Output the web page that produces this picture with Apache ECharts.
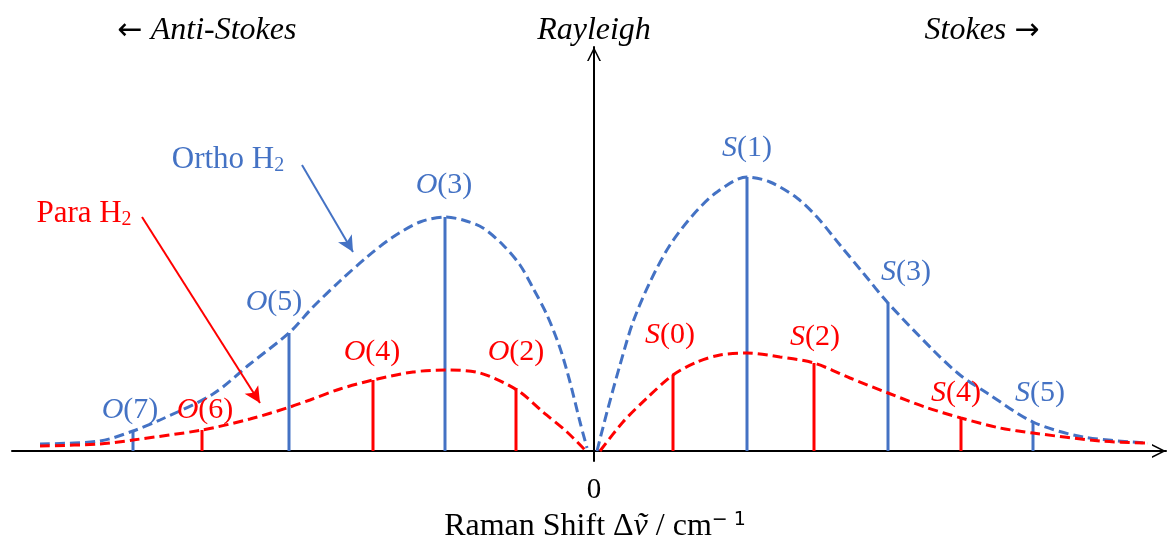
<!DOCTYPE html>
<html>
<head>
<meta charset="utf-8">
<script src="https://cdn.jsdelivr.net/npm/echarts@6/dist/echarts.min.js"></script>
<style>html,body{margin:0;padding:0;background:#fff}#c{width:1167px;height:542px}</style>
</head>
<body>
<div id="c"></div>
<script>
// ---- data (x: Raman shift, arbitrary units; y: intensity, arbitrary units) ----
const orthoLines = ['O(7)', 'O(5)', 'O(3)', 'S(1)', 'S(3)', 'S(5)'];
const orthoShift = [-461, -305, -149, 153, 294, 439];
const orthoIntensity = [19, 118, 234, 274, 148, 29];

const paraLines = ['O(6)', 'O(4)', 'O(2)', 'S(0)', 'S(2)', 'S(4)'];
const paraShift = [-392, -221, -78, 79, 220, 367];
const paraIntensity = [21, 71, 63, 76, 88, 33];

const orthoAntiStokesCurve = [[-554,7],[-494,10],[-461,20],[-434,31],[-381,57],[-344,87],[-304,119],[-281,144],[-254,170],[-227,194],[-201,214],[-174,229],[-149,234],[-131,231],[-111,223],[-91,206],[-74,186],[-61,163],[-47,136],[-34,103],[-24,69],[-14,29],[-7,3]];
const orthoStokesCurve = [[3,0],[13,39],[26,86],[39,129],[56,169],[76,206],[99,236],[123,259],[153,274],[176,269],[203,253],[223,234],[246,206],[270,177],[294,148],[339,101],[366,76],[393,58],[439,29],[489,14],[554,8]];
const paraAntiStokesCurve = [[-554,5],[-494,7],[-461,11],[-392,21],[-344,32],[-304,44],[-284,51],[-254,62],[-221,71],[-181,79],[-149,81],[-114,78],[-77,61],[-51,39],[-27,19],[-9,1]];
const paraStokesCurve = [[6,0],[29,29],[53,53],[79,76],[103,89],[126,96],[153,98],[186,94],[220,88],[256,73],[294,58],[331,44],[367,33],[406,23],[439,18],[506,10],[554,8]];

const xTickLabels = [0];
const headerTexts = ['{a|←} Anti-Stokes', 'Rayleigh', 'Stokes {a|→}'];

// annotation arrows (data coords: start, end)
const orthoArrow = [[-292, 286], [-241, 199]];
const paraArrow = [[-452, 234], [-334, 48]];

// ---- styles ----
const BLUE = '#4472C4', RED = '#FF0000';
const SERIF = '"Liberation Serif", "Times New Roman", serif';
const orthoLabelOffsets = [[-3,-22],[-15,-31],[-1,-32],[0,-29],[18,-31],[7,-29]];
const paraLabelOffsets = [[3,-20],[-1,-28],[0,-36],[-3,-40],[1,-26],[-5,-25]];

function labelRich(name) {
  const m = name.match(/^([A-Z])(.*)$/);
  return '{i|' + m[1] + '}{n|' + m[2] + '}';
}
function stickSeries(xs, ys, color) {
  return {
    type: 'custom', silent: true, z: 2,
    data: xs.map((x, i) => [x, ys[i]]),
    renderItem: function (params, api) {
      const p0 = api.coord([api.value(0), 0]);
      const p1 = api.coord([api.value(0), api.value(1)]);
      return { type: 'line', shape: { x1: p0[0], y1: p0[1], x2: p1[0], y2: p1[1] },
               style: { stroke: color, lineWidth: 3 } };
    }
  };
}
function labelSeries(names, xs, ys, offs, color) {
  return {
    type: 'scatter', silent: true, symbolSize: 2, itemStyle: { color: 'rgba(0,0,0,0)', opacity: 1 }, z: 5,
    data: names.map((n, i) => ({ value: [xs[i], ys[i]], name: n,
      label: { offset: offs[i] } })),
    label: {
      show: true, position: 'inside', color: color, opacity: 1,
      fontFamily: SERIF, fontSize: 30,
      formatter: p => labelRich(p.name),
      rich: {
        i: { fontStyle: 'italic', fontFamily: SERIF, fontSize: 30, color: color },
        n: { fontFamily: SERIF, fontSize: 30, color: color }
      }
    }
  };
}
function curveSeries(data, color, z) {
  return {
    type: 'line', data: data, smooth: 0.3, showSymbol: false, symbol: 'none',
    silent: true, z: z,
    lineStyle: { color: color, width: 3, type: [10, 5] }
  };
}
function headerText(text, x) {
  return { type: 'text', x: x, y: 31, style: { text: text, textAlign: 'center', textVerticalAlign: 'middle',
    font: 'italic 32px ' + SERIF, fill: '#000',
    rich: { a: { fontFamily: '"DejaVu Sans", sans-serif', fontSize: 30, fontStyle: 'normal', fill: '#000' } } } };
}
const chevron = 'path://M0,20 L10,0 L20,20 L17.6,20 L10,4.8 L2.4,20 Z';

const chart = echarts.init(document.getElementById('c'), null, { renderer: 'canvas' });
const option = {
  animation: false,
  backgroundColor: '#fff',
  grid: { left: 12, right: 1, top: 47, bottom: 81, containLabel: false, outerBoundsMode: 'none' },
  xAxis: {
    type: 'value', min: -582, max: 572,
    axisLine: { onZero: true, lineStyle: { color: '#000', width: 2 },
      symbol: ['none', chevron], symbolSize: [18, 14], symbolOffset: [0, -7] },
    axisTick: { show: false },
    splitLine: { show: false },
    axisLabel: { customValues: xTickLabels, margin: 15, color: '#000', fontFamily: SERIF, fontSize: 29 },
    name: '{n|Raman Shift Δ}{i|ṽ}{n| / cm}{s|− 1}',
    nameLocation: 'middle', nameGap: 50,
    nameTextStyle: {
      padding: [0, 0, 0, 12],
      rich: {
        n: { fontFamily: SERIF, fontSize: 32, color: '#000' },
        i: { fontFamily: SERIF, fontSize: 32, fontStyle: 'italic', color: '#000' },
        s: { fontFamily: '"DejaVu Sans", sans-serif', fontSize: 19, color: '#000', verticalAlign: 'top' }
      }
    }
  },
  yAxis: {
    type: 'value', min: -10, max: 404,
    axisLine: { onZero: true, lineStyle: { color: '#000', width: 2 },
      symbol: ['none', chevron], symbolSize: [18, 14], symbolOffset: [0, -7] },
    axisTick: { show: false }, axisLabel: { show: false }, splitLine: { show: false }
  },
  graphic: [
    headerText(headerTexts[0], 207),
    headerText(headerTexts[1], 594),
    headerText(headerTexts[2], 982),
    { type: 'text', x: 228, y: 160, style: { text: '{n|Ortho H}{s|2}', textAlign: 'center', textVerticalAlign: 'middle',
        rich: { n: { fontFamily: SERIF, fontSize: 31, fill: BLUE, lineHeight: 32 }, s: { fontFamily: SERIF, fontSize: 20, fill: BLUE, verticalAlign: 'bottom', lineHeight: 22 } } } },
    { type: 'text', x: 84, y: 214, style: { text: '{n|Para H}{s|2}', textAlign: 'center', textVerticalAlign: 'middle',
        rich: { n: { fontFamily: SERIF, fontSize: 31, fill: RED, lineHeight: 32 }, s: { fontFamily: SERIF, fontSize: 20, fill: RED, verticalAlign: 'bottom', lineHeight: 22 } } } }
  ],
  series: [
    stickSeries(orthoShift, orthoIntensity, BLUE),
    stickSeries(paraShift, paraIntensity, RED),
    Object.assign(curveSeries(orthoAntiStokesCurve, BLUE, 3), {
      markLine: { silent: true, symbol: ['none', 'arrow'], symbolSize: [12, 16], label: { show: false },
        lineStyle: { color: BLUE, width: 2, type: 'solid' },
        data: [[{ coord: orthoArrow[0] }, { coord: orthoArrow[1] }]] }
    }),
    curveSeries(orthoStokesCurve, BLUE, 3),
    Object.assign(curveSeries(paraAntiStokesCurve, RED, 4), {
      markLine: { silent: true, symbol: ['none', 'arrow'], symbolSize: [12, 16], label: { show: false },
        lineStyle: { color: RED, width: 2, type: 'solid' },
        data: [[{ coord: paraArrow[0] }, { coord: paraArrow[1] }]] }
    }),
    curveSeries(paraStokesCurve, RED, 4),
    labelSeries(orthoLines, orthoShift, orthoIntensity, orthoLabelOffsets, BLUE),
    labelSeries(paraLines, paraShift, paraIntensity, paraLabelOffsets, RED)
  ]
};
chart.setOption(option);
</script>
</body>
</html>
